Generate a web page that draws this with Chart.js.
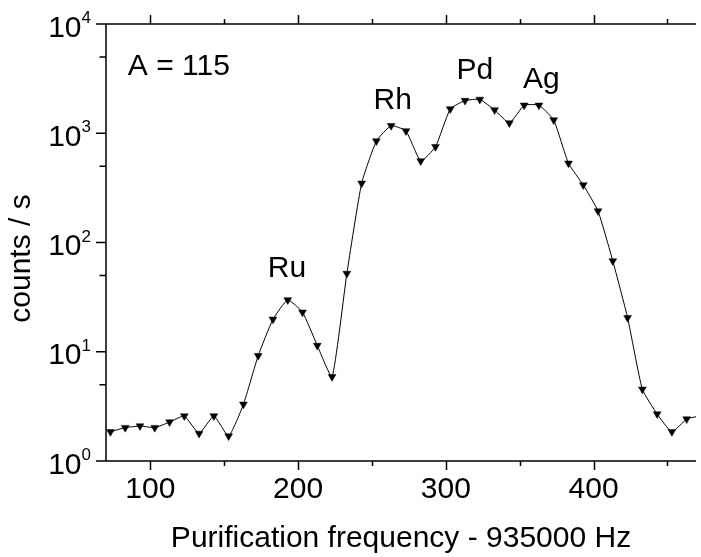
<!DOCTYPE html>
<html>
<head>
<meta charset="utf-8">
<script src="https://cdn.jsdelivr.net/npm/chart.js@4.4.1/dist/chart.umd.min.js"></script>
<style>
html,body{margin:0;padding:0;background:#fff;}
#wrap{width:701px;height:557px;position:relative;overflow:hidden;}
canvas{display:block;}
</style>
</head>
<body>
<div id="wrap"><canvas id="c" width="701" height="557"></canvas></div>
<script>
// ---- data ----
const frequency = [73,83,93,103,113,123,133,143,153,163,173,183,193,203,213,223,233,243,253,263,273,283,293,303,313,323,333,343,353,363,373,383,393,403,413,423,433,443,453,463,473];
const countRate = [1.85,2.02,2.09,2.02,2.27,2.58,1.79,2.58,1.69,3.30,9.2,19.8,29.8,23.0,11.4,5.9,52,348,849,1172,1049,557,753,1667,1990,2040,1633,1240,1803,1803,1322,531,336,194,67.7,20.5,4.53,2.69,1.85,2.42,2.6];

const xMajorTicks = [100,200,300,400];
const xMinorTicks = [150,250,350,450];
const yMajorTicks = [1,10,100,1000,10000];
const yExponents = ['0','1','2','3','4'];
const yMinorTicks = [5,50,500,5000];

const peakNames = ['Ru','Rh','Pd','Ag'];
const peakFreq = [192.5,264,319.6,364.7];
const peakCount = [48,1667,3118,2579];

const massLabel = 'A = 115';
const massLabelFreq = 84.8;
const massLabelCount = 3413;

const xTitle = 'Purification frequency - 935000 Hz';
const yTitle = 'counts / s';

const FONT = '"Liberation Sans", Arial, Helvetica, sans-serif';
Chart.defaults.font.family = FONT;
Chart.defaults.color = '#000';

const axisPlugin = {
  id: 'axisPlugin',
  afterDraw(chart) {
    const {ctx, chartArea: a, scales: {x, y}} = chart;
    ctx.save();
    ctx.strokeStyle = '#000';
    ctx.lineWidth = 1.5;
    ctx.lineCap = 'butt';
    ctx.beginPath();
    ctx.moveTo(a.left, a.top - 0.75); ctx.lineTo(a.left, a.bottom + 0.75);
    ctx.moveTo(a.left, a.bottom); ctx.lineTo(a.right, a.bottom);
    ctx.moveTo(a.left, a.top); ctx.lineTo(a.right, a.top);
    xMajorTicks.forEach(v => {
      const px = Math.round(x.getPixelForValue(v)) + 0.5;
      ctx.moveTo(px, a.bottom); ctx.lineTo(px, a.bottom + 9);
      ctx.moveTo(px, a.top); ctx.lineTo(px, a.top - 9);
    });
    xMinorTicks.forEach(v => {
      const px = Math.round(x.getPixelForValue(v)) + 0.5;
      ctx.moveTo(px, a.bottom); ctx.lineTo(px, a.bottom + 5);
      ctx.moveTo(px, a.top); ctx.lineTo(px, a.top - 5);
    });
    yMajorTicks.forEach(v => {
      const py = y.getPixelForValue(v);
      ctx.moveTo(a.left, py); ctx.lineTo(a.left - 10, py);
    });
    yMinorTicks.forEach(v => {
      const py = y.getPixelForValue(v);
      ctx.moveTo(a.left, py); ctx.lineTo(a.left - 6.5, py);
    });
    ctx.stroke();

    ctx.fillStyle = '#000';
    ctx.textBaseline = 'alphabetic';
    yMajorTicks.forEach((v, i) => {
      const py = y.getPixelForValue(v);
      ctx.font = '30px ' + FONT;
      ctx.textAlign = 'right';
      ctx.fillText('10', 81.5, py + 12.5);
      ctx.font = '17px ' + FONT;
      ctx.textAlign = 'left';
      ctx.fillText(yExponents[i], 81.5, py - 1);
    });

    ctx.font = '30px ' + FONT;
    ctx.textAlign = 'center';
    peakNames.forEach((t, i) => {
      ctx.fillText(t, x.getPixelForValue(peakFreq[i]), y.getPixelForValue(peakCount[i]));
    });
    ctx.textAlign = 'left';
    ctx.fillText(massLabel, x.getPixelForValue(massLabelFreq), y.getPixelForValue(massLabelCount));

    // y-axis title, rotated
    ctx.save();
    ctx.translate(22, (a.top + a.bottom) / 2 + 16);
    ctx.rotate(-Math.PI / 2);
    ctx.textAlign = 'center';
    ctx.textBaseline = 'middle';
    ctx.font = '30px ' + FONT;
    ctx.fillText(yTitle, 0, 0);
    ctx.restore();
    ctx.restore();
  }
};

new Chart(document.getElementById('c'), {
  type: 'scatter',
  data: {
    datasets: [{
      data: frequency.map((f, i) => ({x: f, y: countRate[i]})),
      showLine: true,
      borderColor: '#000',
      borderWidth: 1,
      tension: 0.15,
      pointStyle: 'triangle',
      rotation: 180,
      pointRadius: 4.5,
      pointBorderWidth: 0.5,
      pointBackgroundColor: '#000',
      pointBorderColor: '#000'
    }]
  },
  options: {
    responsive: false,
    animation: false,
    devicePixelRatio: 1,
    layout: {padding: {top: 24, left: 0, right: 0, bottom: 0}},
    plugins: {legend: {display: false}, tooltip: {enabled: false}},
    scales: {
      x: {
        type: 'linear',
        position: 'bottom',
        min: 70,
        max: 469.3,
        afterBuildTicks: s => { s.ticks = xMajorTicks.concat(xMinorTicks).sort((p, q) => p - q).map(v => ({value: v})); },
        afterFit: s => { s.height = 96; },
        grid: {display: false, drawTicks: false},
        border: {display: false},
        ticks: {
          autoSkip: false,
          maxRotation: 0,
          padding: 11,
          font: {size: 30},
          color: '#000',
          callback: v => (xMajorTicks.includes(v) ? String(v) : '')
        },
        title: {display: true, text: xTitle, font: {size: 30}, color: '#000', padding: {top: 0, bottom: 0}}
      },
      y: {
        type: 'logarithmic',
        position: 'left',
        min: 1,
        max: 10000,
        afterFit: s => { s.width = 106; },
        grid: {display: false, drawTicks: false},
        border: {display: false},
        ticks: {display: false},
        title: {display: false}
      }
    }
  },
  plugins: [axisPlugin]
});
</script>
</body>
</html>
